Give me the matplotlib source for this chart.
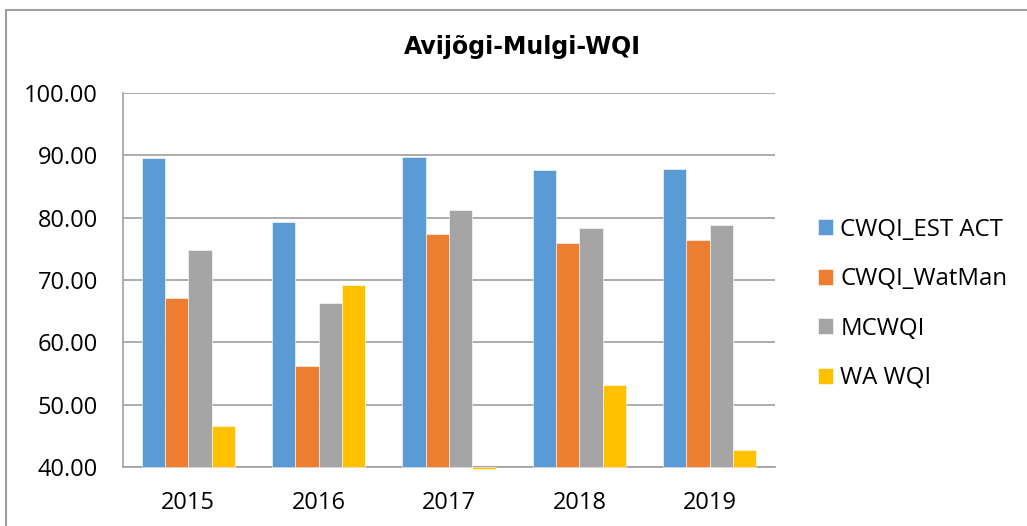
import matplotlib
matplotlib.use("Agg")
import matplotlib.pyplot as plt
from matplotlib.lines import Line2D
from matplotlib.ticker import FormatStrFormatter
import numpy as np

years = ["2015", "2016", "2017", "2018", "2019"]
cwqi_est_act = [89.5, 79.3, 89.8, 87.7, 87.8]
cwqi_watman = [67.1, 56.2, 77.3, 76.0, 76.4]
mcwqi = [74.8, 66.3, 81.3, 78.4, 78.9]
wa_wqi = [46.5, 69.2, 39.6, 53.2, 42.7]

series = [
    ("CWQI_EST ACT", cwqi_est_act, "#5B9BD5"),
    ("CWQI_WatMan", cwqi_watman, "#ED7D31"),
    ("MCWQI", mcwqi, "#A5A5A5"),
    ("WA WQI", wa_wqi, "#FFC000"),
]

W, H = 1027, 526
fig = plt.figure(figsize=(W / 100, H / 100), dpi=100)
fig.patch.set_facecolor("white")

# plot area in pixels: x 123..775, y 93..467
ax = fig.add_axes([123 / W, (H - 467) / H, (775 - 123) / W, (467 - 93) / H])

base = 40
bw = 0.179
x = np.arange(len(years))
for i, (name, vals, col) in enumerate(series):
    vals = np.array(vals)
    ax.bar(x + (i - 1.5) * bw, vals - base, bw, bottom=base, color=col,
           edgecolor="white", linewidth=0.4, label=name, clip_on=False,
           zorder=3)

ax.set_xlim(-0.5, len(years) - 0.5)
ax.set_ylim(40, 100)
ax.set_yticks(np.arange(40, 101, 10))
ax.yaxis.set_major_formatter(FormatStrFormatter("%.2f"))
ax.set_xticks(x)
ax.set_xticklabels(years)
ax.grid(axis="y", color="#A0A0A0", linewidth=1.2, zorder=0)
ax.set_axisbelow(True)
for s in ["top", "right"]:
    ax.spines[s].set_visible(False)
for s in ["left", "bottom"]:
    ax.spines[s].set_color("#A0A0A0")
    ax.spines[s].set_linewidth(1.2)
ax.tick_params(length=0, labelsize=17)
ax.tick_params(axis="x", pad=17.5)
ax.tick_params(axis="y", pad=18)
for lab in ax.get_xticklabels() + ax.get_yticklabels():
    lab.set_fontfamily("Open Sans")

fig.text(522 / W, 1 - 47 / H, "Avijõgi-Mulgi-WQI", ha="center", va="center",
         fontsize=17, fontweight="bold", family="DejaVu Sans")

fig.legend(loc="upper left", bbox_to_anchor=(808 / W, 1 - 208 / H),
           frameon=False, prop={"family": "Open Sans", "size": 17.3},
           handlelength=0.65, handleheight=0.65, handletextpad=0.3,
           labelspacing=1.06, borderaxespad=0)

# outer chart border (only top and left visible in the crop)
fig.add_artist(Line2D([6 / W, 1], [1 - 10 / H, 1 - 10 / H],
                      transform=fig.transFigure, color="#A0A0A0", lw=1.5))
fig.add_artist(Line2D([6 / W, 6 / W], [0, 1 - 10 / H],
                      transform=fig.transFigure, color="#A0A0A0", lw=1.5))

fig.savefig("out.png", dpi=100)
